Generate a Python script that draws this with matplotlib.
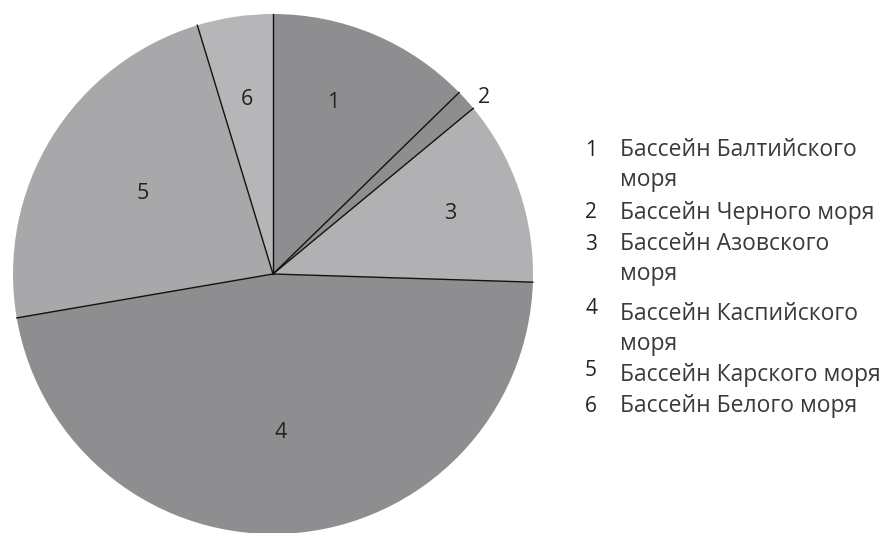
import numpy as np
import matplotlib
import matplotlib.pyplot as plt

matplotlib.rcParams['font.family'] = ['Open Sans', 'DejaVu Sans']

# slice shares (%), clockwise from 12 o'clock
labels = ['1', '2', '3', '4', '5', '6']
shares = [12.7, 1.3, 11.5, 46.8, 23.0, 4.7]
names = ['Бассейн Балтийского\nморя', 'Бассейн Черного моря', 'Бассейн Азовского\nморя',
         'Бассейн Каспийского\nморя', 'Бассейн Карского моря', 'Бассейн Белого моря']
colors = ['#8e8e91', '#8e8e91', '#b1b1b4', '#8e8e91', '#a8a8ab', '#b6b6b9']

W, H = 885, 533
cx, cy, R = 273, H - 274, 260

fig = plt.figure(figsize=(W / 100, H / 100), dpi=100)
ax = fig.add_axes([0, 0, 1, 1])
ax.pie(shares, colors=colors, startangle=90, counterclock=False,
       center=(cx, cy), radius=R, wedgeprops=dict(linewidth=0))
ax.set_xlim(0, W)
ax.set_ylim(0, H)
ax.set_aspect('auto')
ax.axis('off')

# black radial separators only (no outer rim)
cum = np.concatenate([[0], np.cumsum(shares) / np.sum(shares)])
for c in cum[:-1]:
    a = np.deg2rad(90 - 360 * c)
    ax.plot([cx, cx + R * np.cos(a)], [cy, cy + R * np.sin(a)], color='#111111', lw=1.0)

# slice number labels
lab_r = [0.70, 1.06, 0.72, 0.61, 0.59, 0.68]
lab_shift = [3.6, -2.0, 0.0, -1.3, 0.0, 0.0]
for i, lb in enumerate(labels):
    mid = 90 - 360 * (cum[i] + cum[i + 1]) / 2 + lab_shift[i]
    a = np.deg2rad(mid)
    ax.text(cx + lab_r[i] * R * np.cos(a), cy + lab_r[i] * R * np.sin(a), lb,
            ha='center', va='center', fontsize=15.5, color='#222222')

# legend text
rows_y = [150, 213, 244, 314, 375, 406]
num_dy = [0, 0, 0, -5, -5, 0]
for i, (lb, nm) in enumerate(zip(labels, names)):
    y = H - rows_y[i]
    ax.text(591, y - num_dy[i], lb, ha='center', va='center', fontsize=15, color='#222222')
    parts = nm.split('\n')
    ax.text(620, y, parts[0], ha='left', va='center', fontsize=16.5, color='#3a3a3a')
    if len(parts) > 1:
        ax.text(620, y - 30, parts[1], ha='left', va='center', fontsize=16.5, color='#3a3a3a')

plt.savefig('out.png', dpi=100)
